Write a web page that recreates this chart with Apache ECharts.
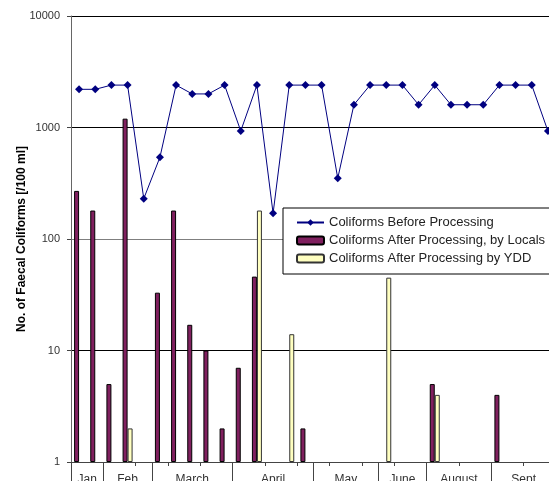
<!DOCTYPE html>
<html>
<head>
<meta charset="utf-8">
<script src="https://cdn.jsdelivr.net/npm/echarts@6/dist/echarts.min.js"></script>
<style>
  html, body { margin: 0; padding: 0; background: #fff; }
  #chart { width: 549px; height: 481px; }
</style>
</head>
<body>
<div id="chart"></div>
<script>
// Sampling rounds (one slot per sample, Jan .. Sept)
const samples = Array.from({ length: 30 }, (_, i) => String(i + 1));

// Month groups along the sampling rounds
const monthNames = ['Jan', 'Feb', 'March', 'April', 'May', 'June', 'August', 'Sept'];
const monthSizes = [2, 3, 5, 5, 4, 3, 4, 4];

// Faecal coliform counts per 100 ml
const beforeProcessing = [2200, 2200, 2400, 2400, 230, 540, 2400, 2000, 2000, 2400,
                          930, 2400, 170, 2400, 2400, 2400, 350, 1600, 2400, 2400,
                          2400, 1600, 2400, 1600, 1600, 1600, 2400, 2400, 2400, 930];
const afterLocals = [270, 180, 5, 1200, null, 33, 180, 17, 10, 2,
                     7, 46, null, null, 2, null, null, null, null, null,
                     null, null, 5, null, null, null, 4, null, null, null];
const afterYDD = [null, null, null, 2, null, null, null, null, null, null,
                  null, 180, null, 14, null, null, null, null, null, 45,
                  null, null, 4, null, null, null, null, null, null, null];

const yTicks = ['1', '10', '100', '1000', '10000'];

// Half-slot scale for the month band: boundaries and centres of each group
const halfSlots = [];
const boundaryIdx = new Set([0]);
const labelAt = {};
let pos = 0;
monthNames.forEach((m, k) => {
  labelAt[pos + monthSizes[k]] = m;          // centre of group in half-slot units
  pos += monthSizes[k] * 2;
  boundaryIdx.add(pos);
});
for (let i = 0; i <= samples.length * 2; i++) halfSlots.push(labelAt[i] || '');

const FONT = '"Liberation Sans", Arial, sans-serif';
const chart = echarts.init(document.getElementById('chart'), null, { renderer: 'canvas' });

chart.setOption({
  animation: false,
  textStyle: { fontFamily: FONT },
  grid: { left: 71, top: 16, bottom: 19, width: 485, containLabel: false, outerBoundsMode: 'none' },
  legend: {
    orient: 'vertical',
    left: 283, top: 208,
    backgroundColor: '#fff',
    borderColor: '#000',
    borderWidth: 1,
    padding: [8, 13, 9, 13],
    itemWidth: 27, itemHeight: 8, itemGap: 5,
    textStyle: { fontFamily: FONT, fontSize: 13, color: '#222' },
    data: ['Coliforms Before Processing', 'Coliforms After Processing, by Locals', 'Coliforms After Processing by YDD']
  },
  xAxis: [
    {
      type: 'category',
      data: samples,
      boundaryGap: true,
      axisLine: { show: true, lineStyle: { color: '#444', width: 1 } },
      axisTick: { show: true, length: 4, lineStyle: { color: '#444' } },
      axisLabel: { show: false },
      splitLine: { show: false }
    },
    {
      type: 'category',
      data: halfSlots,
      boundaryGap: false,
      position: 'bottom',
      axisLine: { show: false },
      axisTick: {
        show: true, length: 30,
        interval: (i) => boundaryIdx.has(i),
        lineStyle: { color: '#444' }
      },
      axisLabel: {
        show: true, interval: 0, margin: 12,
        fontFamily: FONT, fontSize: 12, color: '#333'
      },
      splitLine: { show: false }
    }
  ],
  yAxis: {
    type: 'log',
    logBase: 10,
    min: 1, max: 10000,
    name: 'No. of Faecal Coliforms [/100 ml]',
    nameLocation: 'middle',
    nameGap: 43,
    nameMoveOverlap: false,
    nameTextStyle: { fontFamily: FONT, fontSize: 12, fontWeight: 'bold', color: '#000' },
    axisLine: { show: true, lineStyle: { color: '#666' } },
    axisTick: { show: true, length: 4, lineStyle: { color: '#444' } },
    axisLabel: {
      margin: 11, fontFamily: FONT, fontSize: 11, color: '#333',
      formatter: (v) => yTicks[Math.round(Math.log10(v))]
    },
    splitLine: { show: true, lineStyle: { color: ['#000', '#000', '#7f7f7f', '#000', '#000'], width: 1 } }
  },
  series: [
    {
      name: 'Coliforms After Processing, by Locals',
      type: 'bar',
      data: afterLocals,
      barWidth: 5,
      barGap: '0%',
      itemStyle: { color: '#80205f', borderColor: '#000', borderWidth: 1 }
    },
    {
      name: 'Coliforms After Processing by YDD',
      type: 'bar',
      data: afterYDD,
      barWidth: 5,
      barGap: '0%',
      itemStyle: { color: '#ffffc0', borderColor: '#333', borderWidth: 1 }
    },
    {
      name: 'Coliforms Before Processing',
      type: 'line',
      data: beforeProcessing,
      symbol: 'diamond',
      symbolSize: 8,
      lineStyle: { color: '#000080', width: 1 },
      itemStyle: { color: '#000080' },
      z: 5
    }
  ]
});
</script>
</body>
</html>
